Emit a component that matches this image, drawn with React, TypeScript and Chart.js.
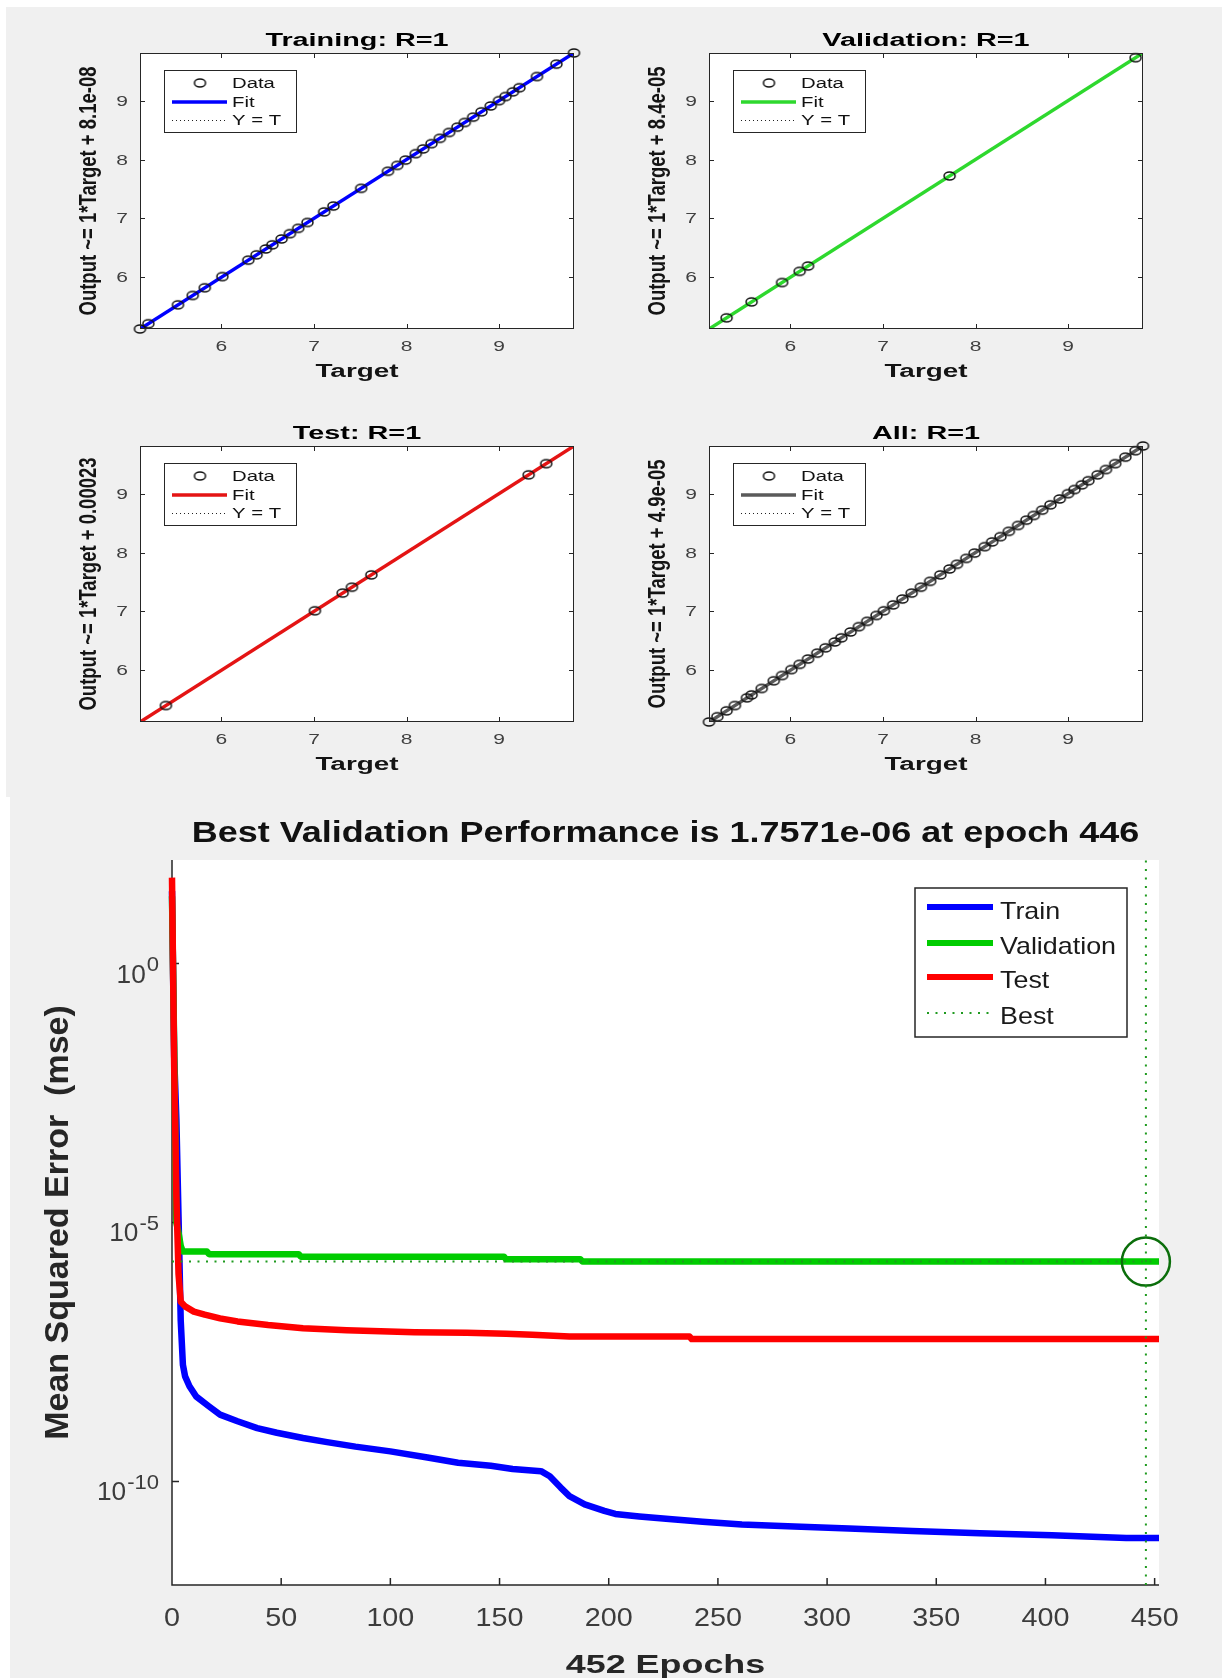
import React, { useEffect, useRef } from 'react';
import { Chart, registerables } from 'chart.js';

Chart.register(...registerables);

const FONT = '"Liberation Sans", Arial, Helvetica, sans-serif';

// ---------------- Regression data ----------------
const trainTargets = [5.12, 5.21, 5.53, 5.69, 5.82, 6.01, 6.29, 6.38, 6.48, 6.55, 6.65, 6.74, 6.83, 6.93, 7.11, 7.21, 7.51, 7.8, 7.9, 7.99, 8.1, 8.18, 8.27, 8.36, 8.46, 8.55, 8.63, 8.72, 8.81, 8.91, 9.0, 9.07, 9.15, 9.22, 9.41, 9.62, 9.81];
const trainOutputs = [5.12, 5.21, 5.53, 5.69, 5.82, 6.01, 6.29, 6.38, 6.48, 6.55, 6.65, 6.74, 6.83, 6.93, 7.11, 7.21, 7.51, 7.8, 7.9, 7.99, 8.1, 8.18, 8.27, 8.36, 8.46, 8.55, 8.63, 8.72, 8.81, 8.91, 9.0, 9.07, 9.15, 9.22, 9.41, 9.62, 9.81];
const valTargets = [5.31, 5.58, 5.91, 6.1, 6.19, 7.72, 9.73];
const valOutputs = [5.31, 5.58, 5.91, 6.1, 6.19, 7.72, 9.73];
const testTargets = [5.4, 7.01, 7.31, 7.41, 7.62, 9.32, 9.51];
const testOutputs = [5.4, 7.01, 7.31, 7.41, 7.62, 9.32, 9.51];
const allTargets = [...trainTargets, ...valTargets, ...testTargets];
const allOutputs = [...trainOutputs, ...valOutputs, ...testOutputs];

const regAxisLimits = [5.12, 9.81];
const regTicks = [6, 7, 8, 9];
const regTitles = ['Training: R=1', 'Validation: R=1', 'Test: R=1', 'All: R=1'];
const regYLabels = [
  'Output ~= 1*Target + 8.1e-08',
  'Output ~= 1*Target + 8.4e-05',
  'Output ~= 1*Target + 0.00023',
  'Output ~= 1*Target + 4.9e-05',
];
const regXLabel = 'Target';
const regLegendLabels = ['Data', 'Fit', 'Y = T'];
const regFitColors = ['#0000ff', '#2ed82e', '#e41414', '#5a5a5a'];
const regTargetsList = [trainTargets, valTargets, testTargets, allTargets];
const regOutputsList = [trainOutputs, valOutputs, testOutputs, allOutputs];

// ---------------- Performance data ----------------
const trainEpochs = [0, 1, 2, 3, 4, 5, 6, 8, 11, 17, 22, 30, 39, 48, 60, 71, 84, 100, 117, 131, 146, 156, 169, 173, 178, 182, 189, 198, 203, 214, 229, 243, 261, 285, 310, 339, 370, 403, 437, 452];
const trainMse = [25.1, 0.0158, 1e-3, 1.26e-5, 1.26e-7, 1.78e-8, 1.07e-8, 6.9e-9, 4.4e-9, 2.8e-9, 1.95e-9, 1.45e-9, 1.07e-9, 8.7e-10, 6.9e-10, 5.75e-10, 4.7e-10, 3.8e-10, 2.9e-10, 2.3e-10, 2.0e-10, 1.74e-10, 1.58e-10, 1.26e-10, 7.6e-11, 5.2e-11, 3.6e-11, 2.7e-11, 2.35e-11, 2.1e-11, 1.86e-11, 1.66e-11, 1.48e-11, 1.35e-11, 1.23e-11, 1.1e-11, 1.0e-11, 9.1e-12, 8.1e-12, 8.1e-12];
const valEpochs = [0, 1, 2, 3, 4, 5, 16, 17, 58, 59, 152, 153, 187, 188, 452];
const valMse = [20, 0.025, 1e-5, 6.3e-6, 3.55e-6, 2.75e-6, 2.75e-6, 2.45e-6, 2.45e-6, 2.19e-6, 2.19e-6, 1.95e-6, 1.95e-6, 1.7571e-6, 1.7571e-6];
const testEpochs = [0, 1, 2, 3, 4, 6, 10, 15, 22, 30, 44, 60, 80, 111, 135, 153, 165, 182, 237, 238, 452];
const testMse = [45.7, 0.01, 3.16e-5, 1e-6, 2.95e-7, 2.4e-7, 1.9e-7, 1.66e-7, 1.41e-7, 1.23e-7, 1.05e-7, 9.1e-8, 8.3e-8, 7.6e-8, 7.4e-8, 7.1e-8, 6.8e-8, 6.3e-8, 6.3e-8, 5.6e-8, 5.6e-8];
const bestEpoch = 446;
const bestPerf = 1.7571e-6;
const totalEpochs = 452;
const perfYRange = [1e-12, 1e2];
const perfXTicks = [0, 50, 100, 150, 200, 250, 300, 350, 400, 450];
const perfYTickExps = [0, -5, -10];
const perfTitle = 'Best Validation Performance is 1.7571e-06 at epoch 446';
const perfXLabel = '452 Epochs';
const perfYLabel = 'Mean Squared Error  (mse)';
const perfLegendLabels = ['Train', 'Validation', 'Test', 'Best'];
const perfColors = ['#0000ff', '#00cc00', '#ff0000', '#1f9a1f'];

// ---------------- helpers ----------------
type TOpts = {
  size: number;
  bold?: boolean;
  color?: string;
  kx?: number;
  align?: CanvasTextAlign;
  rot?: number;
  mid?: number;
};

function drawText(ctx: CanvasRenderingContext2D, str: string, x: number, y: number, o: TOpts) {
  const kx = o.kx ?? 1;
  ctx.save();
  ctx.translate(x, y);
  ctx.scale(kx, 1);
  if (o.rot) ctx.rotate(o.rot);
  ctx.font = `${o.bold ? 'bold ' : ''}${o.size}px ${FONT}`;
  ctx.fillStyle = o.color ?? '#000';
  ctx.textAlign = o.align ?? 'center';
  ctx.textBaseline = 'alphabetic';
  ctx.fillText(str, 0, (o.mid ?? 0.358) * o.size);
  ctx.restore();
}

function measure(ctx: CanvasRenderingContext2D, str: string, size: number, bold = false, kx = 1) {
  ctx.save();
  ctx.font = `${bold ? 'bold ' : ''}${size}px ${FONT}`;
  const w = ctx.measureText(str).width * kx;
  ctx.restore();
  return w;
}

function makeEllipse(w: number, h: number, color: string, lw: number) {
  const c = document.createElement('canvas');
  c.width = w + 4;
  c.height = h + 4;
  const g = c.getContext('2d')!;
  g.strokeStyle = color;
  g.lineWidth = lw;
  g.beginPath();
  g.ellipse(c.width / 2, c.height / 2, w / 2, h / 2, 0, 0, Math.PI * 2);
  g.stroke();
  return c;
}

const toXY = (xs: number[], ys: number[]) => xs.map((x, i) => ({ x, y: ys[i] }));

type Box = { l: number; t: number; r: number; b: number };

// ---------------- Regression subplot ----------------
function RegressionChart({ idx, x, y, w, h, box }: { idx: number; x: number; y: number; w: number; h: number; box: Box }) {
  const ref = useRef<HTMLCanvasElement>(null);
  useEffect(() => {
    const canvas = ref.current!;
    const points = toXY(regTargetsList[idx], regOutputsList[idx]);
    const lo = regAxisLimits[0];
    const hi = regAxisLimits[1];
    const diag = [{ x: lo, y: lo }, { x: hi, y: hi }];
    const marker = makeEllipse(11, 8, '#111111', 1.5);
    const fitColor = regFitColors[idx];
    const TICK = '#404040';
    const KX = 1.5;

    const plugin = {
      id: 'regDecor',
      beforeDraw(chart: any) {
        const { ctx, chartArea: a } = chart;
        ctx.save();
        ctx.fillStyle = '#ffffff';
        ctx.fillRect(a.left, a.top, a.right - a.left, a.bottom - a.top);
        ctx.restore();
      },
      afterDraw(chart: any) {
        const { ctx, chartArea: a, scales } = chart;
        const xs = scales.x;
        const ys = scales.y;
        ctx.save();
        ctx.strokeStyle = '#262626';
        ctx.lineWidth = 1;
        ctx.strokeRect(a.left + 0.5, a.top + 0.5, a.right - a.left - 1, a.bottom - a.top - 1);
        ctx.beginPath();
        regTicks.forEach((v) => {
          const px = Math.round(xs.getPixelForValue(v)) + 0.5;
          ctx.moveTo(px, a.bottom);
          ctx.lineTo(px, a.bottom - 5);
          ctx.moveTo(px, a.top);
          ctx.lineTo(px, a.top + 5);
          const py = Math.round(ys.getPixelForValue(v)) + 0.5;
          ctx.moveTo(a.left, py);
          ctx.lineTo(a.left + 5, py);
          ctx.moveTo(a.right, py);
          ctx.lineTo(a.right - 5, py);
        });
        ctx.stroke();
        ctx.restore();

        regTicks.forEach((v) => {
          drawText(ctx, String(v), xs.getPixelForValue(v), a.bottom + 17, { size: 14, color: TICK, kx: KX });
          drawText(ctx, String(v), a.left - 18, ys.getPixelForValue(v), { size: 14, color: TICK, kx: KX });
        });
        const cx = (a.left + a.right) / 2;
        const cy = (a.top + a.bottom) / 2;
        drawText(ctx, regTitles[idx], cx, a.top - 13, { size: 18, bold: true, color: '#000', kx: 1.6 });
        drawText(ctx, regXLabel, cx, a.bottom + 42, { size: 18, bold: true, color: '#141414', kx: 1.55 });
        drawText(ctx, regYLabels[idx], a.left - 50, cy, { size: 18.5, bold: true, color: '#141414', kx: 1.3, rot: -Math.PI / 2, mid: 0.253 });

        // legend
        const L = a.left + 24;
        const T = a.top + 17;
        ctx.save();
        ctx.fillStyle = '#ffffff';
        ctx.fillRect(L, T, 132, 62);
        ctx.strokeStyle = '#262626';
        ctx.lineWidth = 1;
        ctx.strokeRect(L + 0.5, T + 0.5, 132, 62);
        ctx.drawImage(marker, L + 36 - marker.width / 2, T + 13 - marker.height / 2);
        ctx.strokeStyle = fitColor;
        ctx.lineWidth = 3.5;
        ctx.beginPath();
        ctx.moveTo(L + 8, T + 32);
        ctx.lineTo(L + 63, T + 32);
        ctx.stroke();
        ctx.strokeStyle = '#222';
        ctx.lineWidth = 1;
        ctx.setLineDash([1, 3]);
        ctx.beginPath();
        ctx.moveTo(L + 8, T + 50.5);
        ctx.lineTo(L + 63, T + 50.5);
        ctx.stroke();
        ctx.restore();
        const rows = [13, 32, 50];
        regLegendLabels.forEach((lab, i) => {
          drawText(ctx, lab, L + 68, T + rows[i], { size: 14, color: '#111', kx: 1.45, align: 'left' });
        });
      },
    };

    const chart = new Chart(canvas, {
      type: 'scatter',
      data: {
        datasets: [
          {
            label: regLegendLabels[0],
            data: points,
            showLine: false,
            pointStyle: marker as any,
            pointRadius: 5,
            order: 0,
            clip: false as any,
          },
          {
            label: regLegendLabels[1],
            data: diag,
            showLine: true,
            borderColor: fitColor,
            borderWidth: 3.5,
            pointRadius: 0,
            order: 1,
          },
          {
            label: regLegendLabels[2],
            data: diag,
            showLine: true,
            borderColor: '#000',
            borderWidth: 1,
            borderDash: [1, 3],
            pointRadius: 0,
            order: 2,
          },
        ],
      },
      options: {
        responsive: false,
        animation: false,
        events: [],
        layout: {
          padding: { left: box.l - x, top: box.t - y, right: x + w - box.r, bottom: y + h - box.b },
        },
        scales: {
          x: { type: 'linear', min: lo, max: hi, display: false },
          y: { type: 'linear', min: lo, max: hi, display: false },
        },
        plugins: { legend: { display: false }, tooltip: { enabled: false } },
      },
      plugins: [plugin],
    } as any);
    return () => chart.destroy();
  }, []);
  return <canvas ref={ref} width={w} height={h} style={{ position: 'absolute', left: x, top: y, width: w, height: h }} />;
}

// ---------------- Performance chart ----------------
function PerformanceChart({ x, y, w, h, box }: { x: number; y: number; w: number; h: number; box: Box }) {
  const ref = useRef<HTMLCanvasElement>(null);
  useEffect(() => {
    const canvas = ref.current!;
    const TICK = '#3c3c3c';
    const AX = '#262626';

    const plugin = {
      id: 'perfDecor',
      beforeDraw(chart: any) {
        const { ctx, chartArea: a } = chart;
        ctx.save();
        ctx.fillStyle = '#ffffff';
        ctx.fillRect(a.left, a.top, a.right - a.left, a.bottom - a.top);
        ctx.restore();
      },
      beforeDatasetsDraw(chart: any) {
        const { ctx, chartArea: a, scales } = chart;
        ctx.save();
        ctx.strokeStyle = AX;
        ctx.lineWidth = 1.5;
        ctx.beginPath();
        ctx.moveTo(a.left, a.top);
        ctx.lineTo(a.left, a.bottom);
        ctx.lineTo(a.right, a.bottom);
        perfXTicks.forEach((v) => {
          const px = scales.x.getPixelForValue(v);
          ctx.moveTo(px, a.bottom);
          ctx.lineTo(px, a.bottom - 7);
        });
        perfYTickExps.forEach((e) => {
          const py = scales.y.getPixelForValue(Math.pow(10, e));
          ctx.moveTo(a.left, py);
          ctx.lineTo(a.left + 7, py);
        });
        ctx.stroke();
        ctx.restore();
      },
      afterDraw(chart: any) {
        const { ctx, chartArea: a, scales } = chart;
        perfXTicks.forEach((v) => {
          drawText(ctx, String(v), scales.x.getPixelForValue(v), a.bottom + 32, { size: 25, color: TICK, kx: 1.15 });
        });
        perfYTickExps.forEach((e) => {
          const py = scales.y.getPixelForValue(Math.pow(10, e));
          const expStr = String(e);
          const right = a.left - 13;
          const ew = measure(ctx, expStr, 21, false, 1.05);
          drawText(ctx, expStr, right, py, { size: 21, color: TICK, kx: 1.05, align: 'right' });
          drawText(ctx, '10', right - ew - 1, py + 10, { size: 25, color: TICK, kx: 1.05, align: 'right' });
        });
        const cx = (a.left + a.right) / 2;
        const cy = (a.top + a.bottom) / 2;
        drawText(ctx, perfTitle, cx, a.top - 28, { size: 29, bold: true, color: '#111', kx: 1.24 });
        drawText(ctx, perfXLabel, cx, a.bottom + 79, { size: 26, bold: true, color: '#262626', kx: 1.38 });
        drawText(ctx, perfYLabel, a.left - 112, cy, { size: 34, bold: true, color: '#262626', kx: 0.95, rot: -Math.PI / 2, mid: 0.253 });

        // legend
        const L = a.right - 244;
        const T = a.top + 28;
        ctx.save();
        ctx.fillStyle = '#ffffff';
        ctx.fillRect(L, T, 212, 149);
        ctx.strokeStyle = AX;
        ctx.lineWidth = 1.5;
        ctx.strokeRect(L, T, 212, 149);
        const lineRows = [19, 55, 89, 125];
        perfLegendLabels.forEach((lab, i) => {
          ctx.strokeStyle = perfColors[i];
          if (i === 3) {
            ctx.lineWidth = 2;
            ctx.setLineDash([2, 6.5]);
          } else {
            ctx.lineWidth = 6;
            ctx.setLineDash([]);
          }
          ctx.beginPath();
          ctx.moveTo(L + 12, T + lineRows[i]);
          ctx.lineTo(L + 78, T + lineRows[i]);
          ctx.stroke();
        });
        ctx.setLineDash([]);
        ctx.restore();
        const textRows = [22, 57, 91, 127];
        perfLegendLabels.forEach((lab, i) => {
          drawText(ctx, lab, L + 85, T + textRows[i], { size: 24, color: '#1a1a1a', kx: 1.12, align: 'left' });
        });
      },
    };

    const lineBase = { showLine: true, pointRadius: 0, borderCapStyle: 'butt', borderJoinStyle: 'round', clip: false as any };

    const chart = new Chart(canvas, {
      type: 'scatter',
      data: {
        datasets: [
          {
            ...lineBase,
            label: 'Best',
            data: [{ x: 0, y: bestPerf }, { x: totalEpochs, y: bestPerf }],
            borderColor: perfColors[3],
            borderWidth: 2,
            borderDash: [2, 6.5],
            order: 0,
          },
          {
            ...lineBase,
            label: 'Best epoch',
            data: [{ x: bestEpoch, y: perfYRange[0] }, { x: bestEpoch, y: perfYRange[1] }],
            borderColor: perfColors[3],
            borderWidth: 2,
            borderDash: [2, 6.5],
            order: 0,
          },
          {
            label: 'Best point',
            data: [{ x: bestEpoch, y: bestPerf }],
            showLine: false,
            pointStyle: 'circle',
            pointRadius: 24,
            pointBorderWidth: 2.5,
            pointBorderColor: '#0b6e0b',
            pointBackgroundColor: 'rgba(0,0,0,0)',
            clip: false as any,
            order: 0,
          },
          { ...lineBase, label: perfLegendLabels[2], data: toXY(testEpochs, testMse), borderColor: perfColors[2], borderWidth: 6.5, order: 1 },
          { ...lineBase, label: perfLegendLabels[1], data: toXY(valEpochs, valMse), borderColor: perfColors[1], borderWidth: 6.5, order: 2 },
          { ...lineBase, label: perfLegendLabels[0], data: toXY(trainEpochs, trainMse), borderColor: perfColors[0], borderWidth: 6.5, order: 3 },
        ],
      },
      options: {
        responsive: false,
        animation: false,
        events: [],
        layout: {
          padding: { left: box.l - x, top: box.t - y, right: x + w - box.r, bottom: y + h - box.b },
        },
        scales: {
          x: { type: 'linear', min: 0, max: totalEpochs, display: false },
          y: { type: 'logarithmic', min: perfYRange[0], max: perfYRange[1], display: false },
        },
        plugins: { legend: { display: false }, tooltip: { enabled: false } },
      },
      plugins: [plugin],
    } as any);
    return () => chart.destroy();
  }, []);
  return <canvas ref={ref} width={w} height={h} style={{ position: 'absolute', left: x, top: y, width: w, height: h }} />;
}

export default function App() {
  return (
    <div style={{ position: 'absolute', left: 0, top: 0, width: 1222, height: 1678, background: '#ffffff', overflow: 'hidden' }}>
      <div style={{ position: 'absolute', left: 6, top: 7, width: 1216, height: 790, background: '#f0f0f0' }} />
      <div style={{ position: 'absolute', left: 10, top: 797, width: 1212, height: 881, background: '#f0f0f0' }} />
      <RegressionChart idx={0} x={6} y={7} w={605} h={390} box={{ l: 140, t: 53, r: 574, b: 329 }} />
      <RegressionChart idx={1} x={611} y={7} w={611} h={390} box={{ l: 709, t: 53, r: 1143, b: 329 }} />
      <RegressionChart idx={2} x={6} y={397} w={605} h={400} box={{ l: 140, t: 446, r: 574, b: 722 }} />
      <RegressionChart idx={3} x={611} y={397} w={611} h={400} box={{ l: 709, t: 446, r: 1143, b: 722 }} />
      <PerformanceChart x={10} y={797} w={1212} h={881} box={{ l: 172, t: 860, r: 1159, b: 1585 }} />
    </div>
  );
}
